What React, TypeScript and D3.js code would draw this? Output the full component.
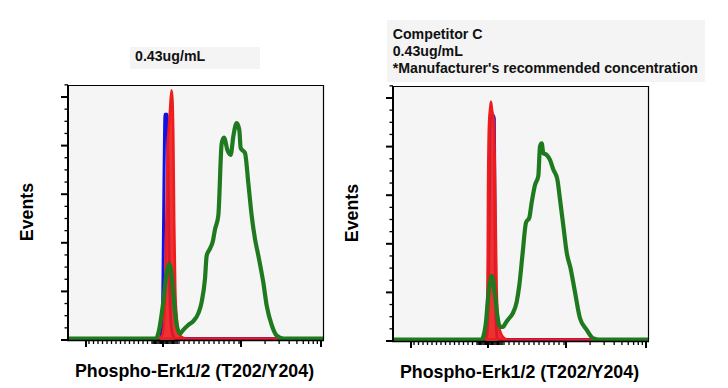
import React from "react";
import * as d3 from "d3";

type Pt = [number, number];

// x = display channel (0-256 across the plot), y = events
const leftBlue: Pt[] = [
  [0, 0], [92, 0], [94, 10], [95, 62], [96, 165], [97, 232], [99, 232],
  [100, 175], [101, 93], [102, 41], [103, 15], [105, 3], [107, 0], [256, 0],
];
const leftRed: Pt[] = [
  [0, 0], [90, 0], [94, 3], [96, 15], [97, 41], [98, 103], [99, 165],
  [100, 206], [101, 221], [102, 237], [103.5, 257], [104.5, 247], [105.5, 196],
  [106.2, 123], [107.3, 51], [108.8, 21], [110.5, 7], [113, 2], [118, 0], [256, 0],
];
const leftGreen: Pt[] = [
  [0, 0], [88, 0], [91.3, 10], [95.3, 38], [98.7, 69], [101.3, 77], [103.7, 65],
  [106, 38], [108.7, 14], [112, 5], [115.3, 9], [120.3, 14], [125.3, 18],
  [130.3, 26], [133.7, 38], [137, 62], [138.7, 86], [142, 93], [144.7, 100],
  [147, 113], [150.3, 127], [153.7, 202], [156, 208], [159.7, 194], [162.7, 190],
  [165.3, 209], [168.7, 223], [171.3, 216], [172.7, 197], [177, 192], [180.3, 161],
  [183.7, 127], [187, 103], [190.3, 86], [195.3, 58], [198.7, 34], [203.7, 14],
  [208.7, 3], [215.3, 0], [256, 0],
];

const rightBlue: Pt[] = [
  [0, 0], [92, 0], [94, 6], [95.5, 60], [96.5, 150], [97.3, 226], [98.5, 232],
  [100, 232], [101.3, 229], [101.8, 160], [102.3, 80], [102.8, 30], [103.5, 8],
  [104.5, 1], [106, 0], [256, 0],
];
const rightRed: Pt[] = [
  [0, 0], [90, 0], [92, 4.5], [93.7, 18.5], [94.7, 87], [95, 155], [96, 224],
  [97.2, 240], [98, 246], [99, 238], [101, 224], [101.7, 190], [102.7, 121],
  [103.7, 52], [105.3, 18.5], [108.7, 4.5], [112, 1], [116, 0], [256, 0],
];
const rightGreen: Pt[] = [
  [0, 0], [89, 0], [90.3, 3], [93, 18.5], [95.3, 46], [98.7, 66], [102, 46],
  [104.3, 25], [107, 13], [110.3, 13], [112, 16], [115.3, 21], [119.7, 27],
  [123.7, 39], [126.3, 56], [129.7, 90], [133, 121], [136.3, 126], [138.7, 142],
  [142, 160], [145.3, 169], [147, 200], [148.7, 203], [150.3, 193], [153.7, 191],
  [157, 186], [160.3, 176], [164.3, 166], [167, 145], [170.3, 118], [173.7, 90],
  [177.7, 73], [182, 49], [187, 22], [193.7, 10], [200.3, 1], [205, 0], [256, 0],
];

const leftTitle = ["0.43ug/mL"];
const rightTitle = ["Competitor C", "0.43ug/mL", "*Manufacturer's recommended concentration"];
const xLabel = "Phospho-Erk1/2 (T202/Y204)";
const yLabel = "Events";

const yMajorTicks = d3.range(0, 251, 50);
const yMinorTicks = d3.range(0, 263, 12.5).filter((v) => v % 50 !== 0);
const xMajorTicks = [18, 95, 173, 253];
const xMinorTicks = [
  ...d3.range(21, 83, 4.5),
  ...d3.range(84, 110, 1.2),
  ...d3.range(111, 172, 5),
  ...d3.range(2, 10).map((k) => 173 + 80 * Math.log10(k)),
];

const FONT = "'Liberation Sans', Arial, sans-serif";
const W = 256;
const H = 255;
const Y_MAX = (H * 50) / 48.6;

interface PanelProps {
  id: string;
  left: number;
  top: number;
  blue: Pt[];
  red: Pt[];
  green: Pt[];
  title: string[];
  titleBox: { x: number; y: number; w: number; h: number };
  titleX: number;
  titleY: number;
  yLabelX: number;
}

const Panel: React.FC<PanelProps> = (p) => {
  const x = d3.scaleLinear().domain([0, 256]).range([0, W]);
  const y = d3.scaleLinear().domain([0, Y_MAX]).range([H, 0]);
  // histogram baseline sits just above the axis line
  const yc = d3.scaleLinear().domain([0, Y_MAX]).range([H - 1.5, 0]);

  const line = d3
    .line<Pt>()
    .x((d) => x(d[0]))
    .y((d) => yc(d[1]))
    .curve(d3.curveMonotoneX);
  const area = d3
    .area<Pt>()
    .x((d) => x(d[0]))
    .y0(yc(0))
    .y1((d) => yc(d[1]))
    .curve(d3.curveMonotoneX);

  return (
    <g>
      <rect
        x={p.titleBox.x}
        y={p.titleBox.y}
        width={p.titleBox.w}
        height={p.titleBox.h}
        fill="#f3f4f3"
      />
      {p.title.map((t, i) => (
        <text
          key={i}
          x={p.titleX}
          y={p.titleY + i * 16.8}
          fontFamily={FONT}
          fontWeight="bold"
          fontSize={14.2}
          fill="#111"
        >
          {t}
        </text>
      ))}

      <g transform={`translate(${p.left},${p.top})`}>
        <defs>
          <clipPath id={p.id}>
            <rect x={0} y={0} width={W} height={H} />
          </clipPath>
        </defs>
        <rect x={0} y={0} width={W} height={H} fill="#f4f5f4" />
        <g clipPath={`url(#${p.id})`}>
          <path d={line(p.blue) || ""} fill="none" stroke="#1212e6" strokeWidth={3} strokeLinejoin="round" />
          <path
            d={area(p.red) || ""}
            fill="#ee1c1c"
            fillOpacity={0.9}
            stroke="#ee1c1c"
            strokeWidth={2.5}
            strokeLinejoin="round"
          />
          <path d={line(p.green) || ""} fill="none" stroke="#1f7a1f" strokeWidth={4.2} strokeLinejoin="round" />
        </g>

        {/* frame */}
        <line x1={0} x2={W} y1={0.5} y2={0.5} stroke="#000" strokeWidth={1.2} />
        <line x1={W - 0.5} x2={W - 0.5} y1={0} y2={H} stroke="#000" strokeWidth={1.2} />
        <line x1={0} x2={0} y1={0} y2={H + 1} stroke="#000" strokeWidth={2} />
        <line x1={-1} x2={W} y1={H + 0.5} y2={H + 0.5} stroke="#000" strokeWidth={1.5} />

        {/* y ticks */}
        {yMajorTicks.map((v) => (
          <line key={`ym${v}`} x1={-7} x2={0} y1={y(v)} y2={y(v)} stroke="#000" strokeWidth={2} />
        ))}
        {yMinorTicks.map((v) => (
          <line key={`yn${v}`} x1={-3.5} x2={0} y1={y(v)} y2={y(v)} stroke="#000" strokeWidth={1.3} />
        ))}

        {/* x ticks */}
        {xMajorTicks.map((v) => (
          <line key={`xm${v}`} x1={x(v)} x2={x(v)} y1={H} y2={H + 7} stroke="#000" strokeWidth={2} />
        ))}
        {xMinorTicks.map((v, i) => (
          <line key={`xn${i}`} x1={x(v)} x2={x(v)} y1={H} y2={H + 4} stroke="#000" strokeWidth={1.3} />
        ))}

        <text
          x={W / 2 - 1.5}
          y={H + 37}
          textAnchor="middle"
          fontFamily={FONT}
          fontWeight="bold"
          fontSize={17.8}
          fill="#000"
        >
          {xLabel}
        </text>
      </g>

      <text
        transform={`translate(${p.yLabelX},${p.top + 127}) rotate(-90)`}
        textAnchor="middle"
        fontFamily={FONT}
        fontWeight="bold"
        fontSize={17.8}
        fill="#000"
      >
        {yLabel}
      </text>
    </g>
  );
};

export default function App() {
  return (
    <svg width={728} height={388} style={{ display: "block", position: "absolute", left: 0, top: 0 }}>
      <rect width={728} height={388} fill="#fff" />
      <Panel
        id="clipL"
        left={68}
        top={85}
        blue={leftBlue}
        red={leftRed}
        green={leftGreen}
        title={leftTitle}
        titleBox={{ x: 130, y: 47, w: 130, h: 22 }}
        titleX={135}
        titleY={61}
        yLabelX={32.5}
      />
      <Panel
        id="clipR"
        left={393}
        top={86}
        blue={rightBlue}
        red={rightRed}
        green={rightGreen}
        title={rightTitle}
        titleBox={{ x: 387, y: 20, w: 318, h: 62 }}
        titleX={392.7}
        titleY={39}
        yLabelX={358}
      />
    </svg>
  );
}
